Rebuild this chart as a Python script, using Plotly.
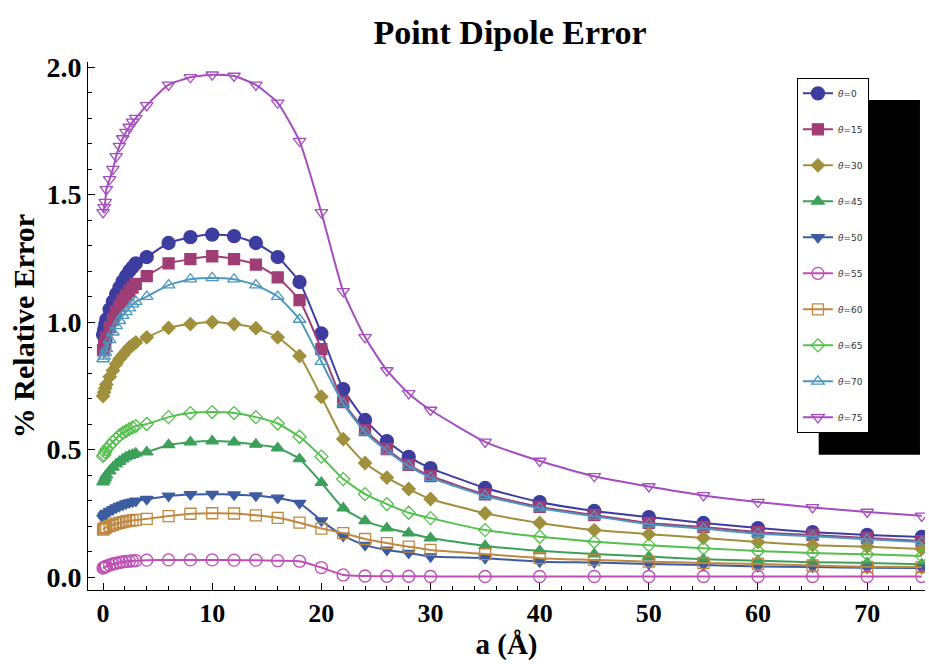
import plotly.graph_objects as go

a_vals = [0, 0.1, 0.2, 0.3, 0.6, 0.9, 1.2, 1.5, 1.8, 2.1, 2.4, 2.7, 3.0,
          4, 6, 8, 10, 12, 14, 16, 18, 20, 22, 24, 26, 28, 30,
          35, 40, 45, 50, 55, 60, 65, 70, 75]

theta0 = [0.95, 0.97, 0.99, 1.01, 1.05, 1.08, 1.11, 1.135, 1.16, 1.18, 1.20, 1.215, 1.23,
          1.255, 1.31, 1.333, 1.343, 1.337, 1.31, 1.255, 1.157, 0.955, 0.737, 0.616, 0.533, 0.471, 0.427,
          0.349, 0.294, 0.259, 0.235, 0.212, 0.192, 0.176, 0.165, 0.157]
theta15 = [0.89, 0.905, 0.92, 0.94, 0.98, 1.01, 1.04, 1.065, 1.085, 1.105, 1.12, 1.135, 1.15,
           1.18, 1.23, 1.247, 1.258, 1.247, 1.225, 1.175, 1.086, 0.894, 0.686, 0.576, 0.502, 0.44, 0.396,
           0.324, 0.275, 0.243, 0.212, 0.196, 0.176, 0.165, 0.153, 0.141]
theta30 = [0.71, 0.725, 0.74, 0.755, 0.785, 0.81, 0.835, 0.855, 0.87, 0.885, 0.90, 0.91, 0.92,
           0.94, 0.977, 0.992, 1.0, 0.992, 0.976, 0.94, 0.867, 0.707, 0.541, 0.447, 0.39, 0.345, 0.306,
           0.25, 0.212, 0.184, 0.168, 0.153, 0.137, 0.125, 0.119, 0.11]
theta45 = [0.372, 0.38, 0.39, 0.40, 0.415, 0.43, 0.443, 0.453, 0.462, 0.47, 0.476, 0.48, 0.485,
           0.49, 0.518, 0.529, 0.533, 0.529, 0.52, 0.506, 0.463, 0.37, 0.27, 0.22, 0.192, 0.172, 0.153,
           0.122, 0.103, 0.09, 0.08, 0.07, 0.064, 0.058, 0.055, 0.05]
theta50 = [0.232, 0.24, 0.245, 0.25, 0.258, 0.265, 0.272, 0.278, 0.283, 0.288, 0.292, 0.295, 0.298,
           0.305, 0.318, 0.324, 0.325, 0.323, 0.319, 0.31, 0.29, 0.221, 0.161, 0.125, 0.106, 0.094, 0.08,
           0.074, 0.06, 0.057, 0.051, 0.047, 0.041, 0.039, 0.036, 0.035]
theta55 = [0.035, 0.038, 0.04, 0.043, 0.047, 0.051, 0.054, 0.057, 0.059, 0.061, 0.062, 0.063, 0.064,
           0.066, 0.067, 0.067, 0.067, 0.066, 0.066, 0.064, 0.062, 0.037, 0.008, 0.004, 0.003, 0.003, 0.002,
           0.002, 0.002, 0.002, 0.002, 0.002, 0.002, 0.002, 0.002, 0.002]
theta60 = [0.186, 0.19, 0.193, 0.196, 0.2, 0.205, 0.209, 0.212, 0.215, 0.218, 0.22, 0.222, 0.224,
           0.228, 0.239, 0.248, 0.25, 0.249, 0.242, 0.232, 0.213, 0.19, 0.172, 0.149, 0.133, 0.119, 0.106,
           0.09, 0.074, 0.067, 0.06, 0.055, 0.051, 0.045, 0.04, 0.039]
theta65 = [0.475, 0.48, 0.49, 0.50, 0.515, 0.53, 0.543, 0.555, 0.565, 0.572, 0.58, 0.586, 0.592,
           0.60, 0.627, 0.643, 0.647, 0.643, 0.627, 0.602, 0.55, 0.472, 0.384, 0.325, 0.286, 0.252, 0.231,
           0.184, 0.158, 0.138, 0.125, 0.113, 0.102, 0.094, 0.089, 0.082]
theta70 = [0.855, 0.865, 0.88, 0.895, 0.93, 0.96, 0.985, 1.005, 1.025, 1.04, 1.055, 1.07, 1.08,
           1.10, 1.145, 1.168, 1.173, 1.168, 1.145, 1.10, 1.01, 0.845, 0.68, 0.568, 0.495, 0.435, 0.39,
           0.318, 0.27, 0.238, 0.207, 0.19, 0.17, 0.16, 0.148, 0.137]
theta75 = [1.43, 1.45, 1.47, 1.52, 1.56, 1.60, 1.65, 1.69, 1.72, 1.745, 1.765, 1.785, 1.80,
           1.85, 1.93, 1.96, 1.97, 1.965, 1.93, 1.86, 1.71, 1.43, 1.12, 0.94, 0.81, 0.72, 0.655,
           0.53, 0.455, 0.395, 0.355, 0.32, 0.294, 0.273, 0.255, 0.24]

series_labels = ["0", "15", "30", "45", "50", "55", "60", "65", "70", "75"]
series_values = [theta0, theta15, theta30, theta45, theta50, theta55, theta60, theta65, theta70, theta75]
colors = ["#3D3DA0", "#A03D74", "#A0903D", "#3DA05A", "#3D5CA0",
          "#BF4DB4", "#BF8840", "#54BF4D", "#4D97BF", "#A44DBF"]
symbols = ["circle", "square", "diamond", "triangle-up", "triangle-down",
           "circle-open", "square-open", "diamond-open", "triangle-up-open", "triangle-down-open"]
sizes = [13, 11, 10, 11, 11, 12, 11, 10, 11, 11]

fig = go.Figure()
for lab, vals, col, sym, sz in zip(series_labels, series_values, colors, symbols, sizes):
    fig.add_trace(go.Scatter(
        x=a_vals, y=vals, mode="lines+markers",
        name="<i>θ</i>=" + lab, legendgroup=lab,
        line=dict(color=col, width=2, shape="spline", smoothing=0.5),
        marker=dict(symbol=sym, size=sz, color=col, line=dict(color=col, width=1.3)),
    ))

serif = "Liberation Serif"
fig.update_layout(
    width=929, height=664,
    margin=dict(l=88, r=4, t=62, b=74),
    paper_bgcolor="white", plot_bgcolor="white",
    title=dict(text="Point Dipole Error", x=0.549, xanchor="center", y=0.952, yanchor="middle",
               yref="container", font=dict(family=serif, size=34, color="black", weight="bold")),
    showlegend=True,
    legend=dict(x=0.847, y=0.970, xanchor="left", yanchor="top",
                bgcolor="white", bordercolor="black", borderwidth=1,
                font=dict(family="DejaVu Sans", size=9, color="#333"),
                tracegroupgap=17, itemwidth=30, entrywidth=68),
    xaxis=dict(range=[-1.38, 75.3], showgrid=False, zeroline=False,
               showline=True, linecolor="black", linewidth=1,
               ticks="inside", ticklen=7, tickcolor="black", dtick=10, tick0=0,
               minor=dict(dtick=2, ticks="inside", ticklen=4, tickcolor="black"),
               tickfont=dict(family=serif, size=26, color="black", weight="bold"),
               title=dict(text="a (Å)", font=dict(family=serif, size=29, color="black", weight="bold"),
                          standoff=4)),
    yaxis=dict(range=[-0.051, 2.02], showgrid=False, zeroline=False,
               showline=True, linecolor="black", linewidth=1,
               ticks="inside", ticklen=7, tickcolor="black", dtick=0.5, tick0=0, tickformat=".1f",
               minor=dict(dtick=0.1, ticks="inside", ticklen=4, tickcolor="black"),
               tickfont=dict(family=serif, size=28, color="black", weight="bold"),
               title=dict(text="% Relative Error", font=dict(family=serif, size=30, color="black", weight="bold"),
                          standoff=2)),
    shapes=[dict(type="rect", xref="paper", yref="paper", x0=0.873, x1=0.994, y0=0.256, y1=0.928,
                 fillcolor="black", line=dict(width=0), layer="above")],
)

fig.write_html("out.html")
